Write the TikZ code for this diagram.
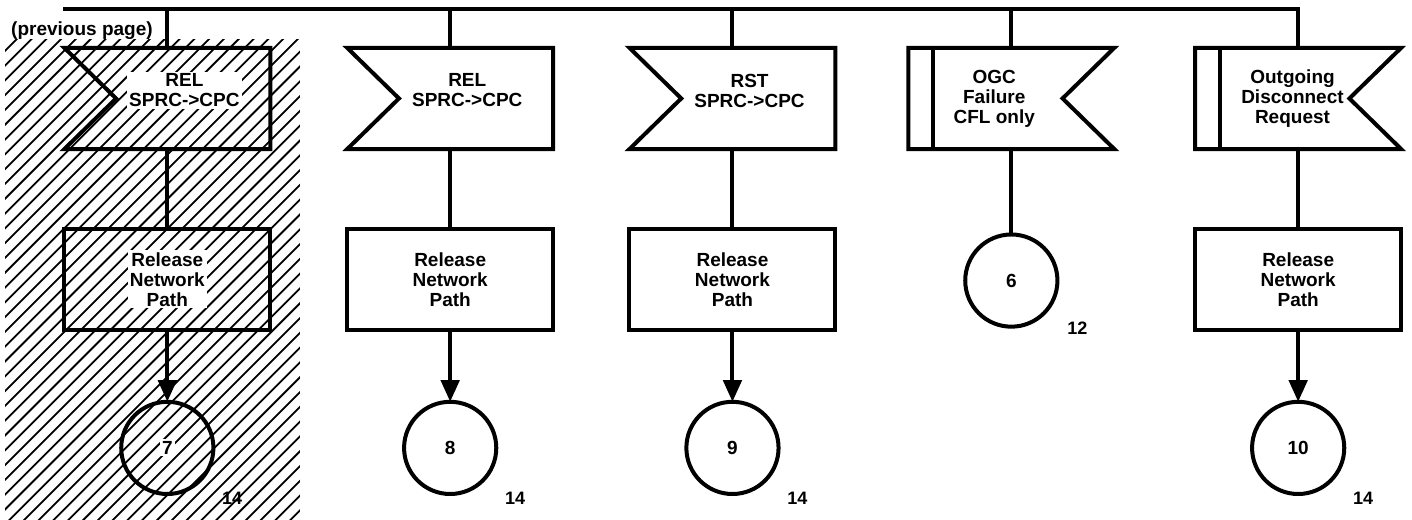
\documentclass[tikz,border=0pt]{standalone}
\usepackage{fontspec}
\setmainfont{Liberation Sans}
\usetikzlibrary{arrows.meta}

\begin{document}
\begin{tikzpicture}[inner sep=0pt,outer sep=0pt,line width=2pt,
font=\bfseries\fontsize{9.5}{10}\selectfont,
sigframe/.style={minimum width=3.62cm,minimum height=1.78cm},
sigtxt/.style={align=center,inner sep=1pt},
procbox/.style={draw,rectangle,align=center,minimum width=3.62cm,minimum height=1.78cm},
connector/.style={draw,circle,minimum size=1.62cm},
pagenum/.style={font=\bfseries\fontsize{9}{10}\selectfont},
flow/.style={-{Triangle[length=0.38cm,width=0.32cm]}}]

\useasboundingbox (0,0) rectangle (24.81,-9.12);

% hatched column (previous page)
\begin{scope}
\clip (0.09,-0.70) rectangle (5.27,-9.12);
\foreach \x in {-9,-8.74,...,5.5} \draw[line width=0.9pt] (\x,-9.2) -- ++(9,9);
\end{scope}
\node (prev) at (1.44,-0.53) {(previous page)};

% signals
\node[sigframe,label={[sigtxt,fill=white,xshift=0.3cm,yshift=0.14cm]center:{REL\\SPRC->CPC}}] (s1) at (2.94,-1.73) {};
\node[sigframe,label={[sigtxt,xshift=0.3cm,yshift=0.14cm]center:{REL\\SPRC->CPC}}] (s2) at (7.91,-1.73) {};
\node[sigframe,label={[sigtxt,xshift=0.3cm,yshift=0.14cm]center:{RST\\SPRC->CPC}}] (s3) at (12.87,-1.73) {};
\node[sigframe,label={[sigtxt,xshift=-0.3cm]center:{OGC\\Failure\\CFL only}}] (s4) at (17.77,-1.73) {};
\node[sigframe,label={[sigtxt,xshift=-0.1cm]center:{Outgoing\\Disconnect\\Request}}] (s5) at (22.81,-1.73) {};
\foreach \s in {s1,s2,s3}
  \draw (\s.north west) -- (\s.north east) -- (\s.south east) -- (\s.south west) -- ([xshift=0.91cm]\s.west) -- cycle;
\foreach \s in {s4,s5} {
  \draw (\s.north west) -- (\s.north east) -- ([xshift=-0.91cm]\s.east) -- (\s.south east) -- (\s.south west) -- cycle;
  \draw ([xshift=0.43cm]\s.north west) -- ([xshift=0.43cm]\s.south west);
}

% tasks
\node[procbox,label={[sigtxt,fill=white]center:{Release\\Network\\Path}}] (b1) at (2.94,-4.91) {};
\node[procbox] (b2) at (7.91,-4.91) {Release\\Network\\Path};
\node[procbox] (b3) at (12.87,-4.91) {Release\\Network\\Path};
\node[procbox] (b5) at (22.81,-4.91) {Release\\Network\\Path};

% connectors
\node[connector,label={[sigtxt,fill=white]center:7}] (c1) at (2.94,-7.87) {};
\node[connector] (c2) at (7.91,-7.87) {8};
\node[connector] (c3) at (12.87,-7.87) {9};
\node[connector] (c4) at (17.77,-4.93) {6};
\node[connector] (c5) at (22.81,-7.87) {10};
\path (c1.center) ++(1.14,-0.88) node[pagenum] (p1) {14};
\path (c2.center) ++(1.14,-0.88) node[pagenum] (p2) {14};
\path (c3.center) ++(1.14,-0.88) node[pagenum] (p3) {14};
\path (c4.center) ++(1.16,-0.83) node[pagenum] (p4) {12};
\path (c5.center) ++(1.14,-0.88) node[pagenum] (p5) {14};

% bus and flow lines
\coordinate (bus) at (1.11,-0.16);
\draw (bus) -| (s5.north);
\foreach \s in {s1,s2,s3,s4} \draw (\s.north) -- (\s.north |- bus);
\foreach \i in {1,2,3,5} {
  \draw (s\i.south) -- (b\i.north);
  \draw[flow] (b\i.south) -- (c\i.north);
}
\draw (s4.south) -- (c4.north);
\end{tikzpicture}
\end{document}
